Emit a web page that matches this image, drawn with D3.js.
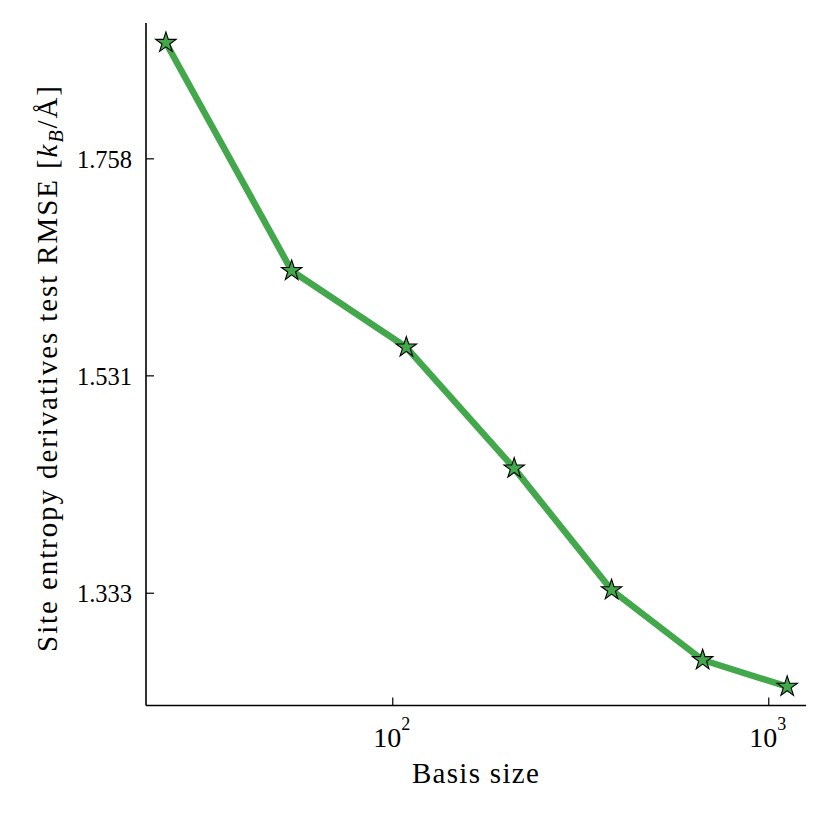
<!DOCTYPE html>
<html>
<head>
<meta charset="utf-8">
<script src="https://cdn.jsdelivr.net/npm/d3@7"></script>
<style>
  html, body { margin: 0; padding: 0; background: #fff; }
  text { font-family: "Liberation Serif", "DejaVu Serif", serif; fill: #000; }
</style>
</head>
<body>
<svg id="chart" width="830" height="830"></svg>
<script>
// Data
const basisSizes = [25, 54, 109, 211, 383, 669, 1123];
const rmseValues = [1.8924, 1.6365, 1.5586, 1.4429, 1.3353, 1.2771, 1.2556];
const yTickValues = [1.333, 1.531, 1.758];
const yTickLabels = ["1.333", "1.531", "1.758"];
const xTickValues = [100, 1000];
const xTickExponents = ["2", "3"];

(function () {
const svg = d3.select("#chart");
const mLeft = 146, mRight = 806, mTop = 23, mBottom = 705.5;

const x = d3.scaleLog().domain([22.13, 1260]).range([mLeft, mRight]);
const y = d3.scaleLog().domain([1.2406, 1.9163]).range([mBottom, mTop]);

const green = "#43a84c";

// Line
const line = d3.line().x((d, i) => x(basisSizes[i])).y(d => y(d));
svg.append("path")
  .datum(rmseValues)
  .attr("d", line)
  .attr("fill", "none")
  .attr("stroke", green)
  .attr("stroke-width", 6.5)
  .attr("stroke-linejoin", "round");

// Markers
const star = d3.symbol().type(d3.symbolStar).size(130);
svg.selectAll(".pt")
  .data(rmseValues)
  .join("path")
  .attr("class", "pt")
  .attr("d", star)
  .attr("transform", (d, i) => `translate(${x(basisSizes[i])},${y(d)})`)
  .attr("fill", green)
  .attr("stroke", "#000")
  .attr("stroke-width", 1.1)
  .attr("stroke-linejoin", "miter");

// Axes (spines left and bottom only)
const xAxis = d3.axisBottom(x).tickValues(xTickValues).tickSize(-8).tickFormat("");
const gx = svg.append("g").attr("transform", `translate(0,${mBottom})`).call(xAxis);
gx.select(".domain").attr("d", `M${mLeft},0H${mRight}`).attr("stroke-width", 1.6);
gx.selectAll(".tick line").attr("stroke-width", 1.2);
gx.selectAll(".tick").each(function(d, i) {
  const t = d3.select(this).append("text")
    .attr("x", -1)
    .attr("y", 41)
    .attr("text-anchor", "middle")
    .attr("font-size", 28);
  t.append("tspan").text("10");
  t.append("tspan").attr("dy", -17).attr("font-size", 18).text(xTickExponents[i]);
});

const yAxis = d3.axisLeft(y).tickValues(yTickValues).tickSize(-8).tickFormat("");
const gy = svg.append("g").attr("transform", `translate(${mLeft},0)`).call(yAxis);
gy.select(".domain").attr("d", `M0,${mTop}V${mBottom}`).attr("stroke-width", 1.6);
gy.selectAll(".tick line").attr("stroke-width", 1.2);
gy.selectAll(".tick").append("text")
  .attr("x", -14)
  .attr("dy", "0.36em")
  .attr("text-anchor", "end")
  .attr("font-size", 24.5)
  .text((d, i) => yTickLabels[i]);

// Axis labels
svg.append("text")
  .attr("x", (mLeft + mRight) / 2)
  .attr("y", 783)
  .attr("text-anchor", "middle")
  .attr("font-size", 29)
  .attr("letter-spacing", 1.3)
  .text("Basis size");

const yl = svg.append("text")
  .attr("transform", `translate(57,368) rotate(-90)`)
  .attr("text-anchor", "middle")
  .attr("font-size", 29)
  .attr("letter-spacing", 1.9);
yl.append("tspan").text("Site entropy derivatives test RMSE [");
yl.append("tspan").attr("font-style", "italic").text("k");
yl.append("tspan").attr("font-style", "italic").attr("font-size", 20).attr("dy", 6).text("B");
yl.append("tspan").attr("dy", -6).text("/Å]");
})();
</script>
</body>
</html>
